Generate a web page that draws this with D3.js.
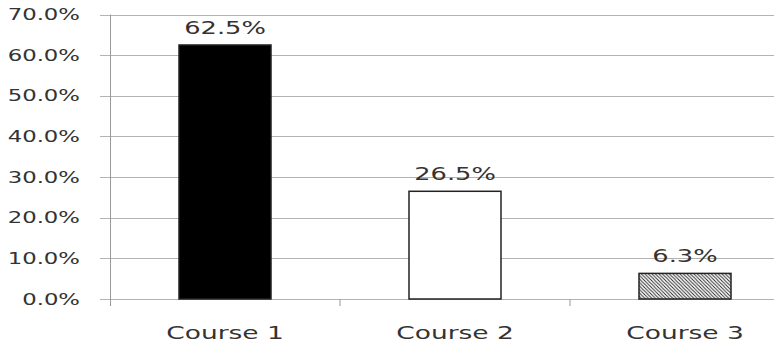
<!DOCTYPE html>
<html>
<head>
<meta charset="utf-8">
<script src="https://cdn.jsdelivr.net/npm/d3@7"></script>
<style>
  body { margin: 0; background: #fff; }
  svg text { font-family: "DejaVu Sans", Verdana, sans-serif; fill: #333; }
</style>
</head>
<body>
<div id="chart"></div>
<script>
const courses = ['Course 1', 'Course 2', 'Course 3'];
const shares = [62.5, 26.5, 6.3];
const yTicks = [0, 10, 20, 30, 40, 50, 60, 70];

const width = 774, height = 344;
const stretch = 1.47; // the text in the original is drawn wide

const svg = d3.select('#chart').append('svg')
  .attr('width', width).attr('height', height);

const defs = svg.append('defs');
const hatch = defs.append('pattern')
  .attr('id', 'hatch')
  .attr('patternUnits', 'userSpaceOnUse')
  .attr('width', 3.5).attr('height', 3.5);
hatch.append('rect').attr('width', 3.5).attr('height', 3.5).attr('fill', '#fff');
hatch.append('path')
  .attr('d', 'M0,0 L3.5,3.5 M-1,2.5 L1,4.5 M2.5,-1 L4.5,1')
  .attr('stroke', '#222').attr('stroke-width', 0.9);

const x = d3.scaleBand().domain(courses).range([110, 800])
  .paddingInner(0.6).paddingOuter(0.3);
const y = d3.scaleLinear().domain([0, 70]).range([299, 14.5]);

const fills = ['#000', '#fff', 'url(#hatch)'];

// gridlines
svg.append('g').selectAll('line')
  .data(yTicks).enter().append('line')
  .attr('x1', 100).attr('x2', width)
  .attr('y1', d => Math.round(y(d)) + 0.5).attr('y2', d => Math.round(y(d)) + 0.5)
  .attr('stroke', '#b3b3b3').attr('stroke-width', 1);

// y axis line
svg.append('line')
  .attr('x1', 110.5).attr('x2', 110.5)
  .attr('y1', y(70)).attr('y2', 306)
  .attr('stroke', '#999');

// category boundary ticks
svg.append('g').selectAll('line')
  .data(courses.slice(1)).enter().append('line')
  .attr('x1', d => x(d) - x.step() * x.paddingInner() / 2)
  .attr('x2', d => x(d) - x.step() * x.paddingInner() / 2)
  .attr('y1', y(0)).attr('y2', 306)
  .attr('stroke', '#999');

// y tick labels
svg.append('g').selectAll('text')
  .data(yTicks).enter().append('text')
  .attr('transform', d => 'translate(80,' + y(d) + ') scale(' + stretch + ',1)')
  .attr('text-anchor', 'end')
  .attr('dy', '0.36em')
  .attr('font-size', 15.5)
  .text(d => d3.format('.1f')(d) + '%');

// bars
const data = courses.map((c, i) => ({course: c, value: shares[i], fill: fills[i]}));
svg.append('g').selectAll('rect')
  .data(data).enter().append('rect')
  .attr('x', d => x(d.course))
  .attr('y', d => y(d.value))
  .attr('width', x.bandwidth())
  .attr('height', d => y(0) - y(d.value))
  .attr('fill', d => d.fill)
  .attr('stroke', '#222').attr('stroke-width', 1.5);

// value labels
svg.append('g').selectAll('text')
  .data(data).enter().append('text')
  .attr('transform', d => 'translate(' + (x(d.course) + x.bandwidth() / 2) + ',' + (y(d.value) - 11) + ') scale(' + stretch + ',1)')
  .attr('text-anchor', 'middle')
  .attr('font-size', 17.5)
  .text(d => d.value.toFixed(1) + '%');

// category labels
svg.append('g').selectAll('text')
  .data(courses).enter().append('text')
  .attr('transform', d => 'translate(' + (x(d) + x.bandwidth() / 2) + ',339) scale(' + stretch + ',1)')
  .attr('text-anchor', 'middle')
  .attr('font-size', 18)
  .text(d => d);
</script>
</body>
</html>
